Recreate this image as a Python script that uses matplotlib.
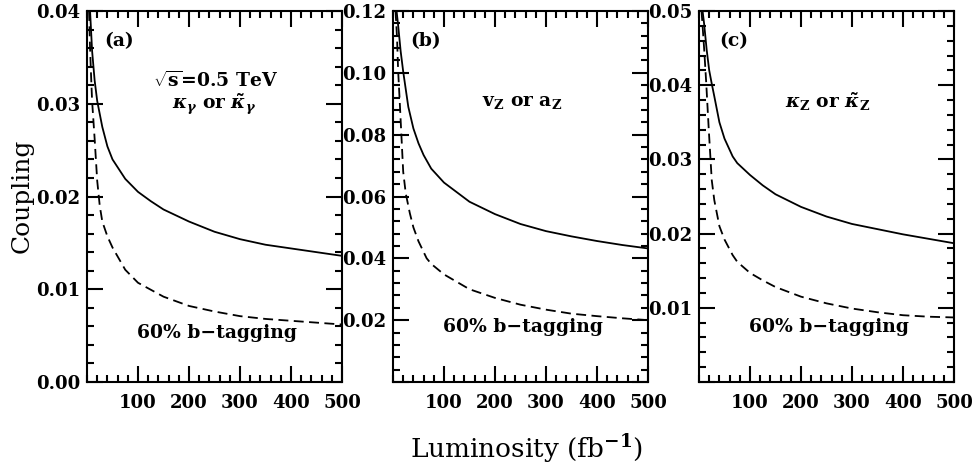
#!/usr/bin/env python3
"""
Sensitivity to anomalous couplings versus integrated luminosity at
sqrt(s) = 0.5 TeV, three panels: (a) kappa_gamma, (b) v_Z / a_Z, (c) kappa_Z.
Solid = no tagging, dashed = 60% b-tagging.
"""

import matplotlib
matplotlib.use('Agg')  # headless
import matplotlib.pyplot as plt
from matplotlib.ticker import MultipleLocator, FixedLocator, FuncFormatter

# ── Data ──────────────────────────────────────────────────────
# panel (a): kappa_gamma or kappa~_gamma
lum_a_solid = [6, 10, 15, 20, 30, 40, 50, 75, 100, 125, 150, 200, 250, 300, 350, 400, 450, 500]
a_solid = [0.0400, 0.0357, 0.0325, 0.0303, 0.0275, 0.0254, 0.0240, 0.0219, 0.0205, 0.0195,
           0.0186, 0.0173, 0.0162, 0.0154, 0.0148, 0.0144, 0.0140, 0.0136]
lum_a_dash = [4, 6, 8, 10, 15, 20, 25, 30, 40, 50, 75, 100, 150, 200, 250, 300, 350, 400, 450, 500]
a_dash = [0.0400, 0.0360, 0.0330, 0.0303, 0.0262, 0.0217, 0.0190, 0.0173, 0.0157, 0.0145,
          0.0121, 0.0107, 0.0092, 0.0082, 0.0076, 0.0071, 0.0068, 0.0066, 0.0064, 0.0062]

# panel (b): v_Z or a_Z
lum_b_solid = [7, 10, 15, 20, 30, 40, 50, 60, 75, 100, 150, 200, 250, 300, 350, 400, 450, 500]
b_solid = [0.120, 0.1155, 0.107, 0.1004, 0.089, 0.082, 0.0772, 0.0734, 0.0690, 0.0645,
           0.0583, 0.0543, 0.0511, 0.0488, 0.0471, 0.0456, 0.0443, 0.0432]
lum_b_dash = [5, 8, 10, 14, 20, 25, 33, 40, 50, 66, 75, 100, 150, 200, 250, 300, 350, 400, 450, 500]
b_dash = [0.120, 0.111, 0.101, 0.088, 0.068, 0.061, 0.0546, 0.050, 0.0455, 0.0400,
          0.0382, 0.0348, 0.0300, 0.0272, 0.0250, 0.0234, 0.0221, 0.0213, 0.0206, 0.0200]

# panel (c): kappa_Z or kappa~_Z
lum_c_solid = [7, 10, 15, 20, 25, 30, 40, 50, 66, 75, 100, 125, 150, 200, 250, 300, 350, 400, 450, 500]
c_solid = [0.050, 0.0483, 0.0448, 0.0420, 0.0402, 0.0385, 0.0350, 0.0328, 0.0304, 0.0295,
           0.0279, 0.0265, 0.0253, 0.0236, 0.0223, 0.0213, 0.0206, 0.0199, 0.0193, 0.0187]
lum_c_dash = [5, 8, 10, 14, 19, 25, 30, 40, 50, 66, 75, 100, 125, 150, 200, 250, 300, 350, 400, 450, 500]
c_dash = [0.050, 0.047, 0.045, 0.0405, 0.0342, 0.0272, 0.0245, 0.0210, 0.0192, 0.0171,
          0.0162, 0.0147, 0.0137, 0.0128, 0.0115, 0.0106, 0.0099, 0.0094, 0.0090, 0.0088, 0.0087]

x_ticks = [100, 200, 300, 400, 500]
y_max = [0.04, 0.12, 0.05]
y_major = [0.01, 0.02, 0.01]
y_minor = [0.002, 0.004, 0.002]
panel_tags = ['(a)', '(b)', '(c)']
tag_x = [0.125, 0.129, 0.137]
coupling_labels = [r'$\kappa_\gamma$ or $\tilde{\kappa}_\gamma$',
                   r'v$_{\rm Z}$ or a$_{\rm Z}$',
                   r'$\kappa_{\rm Z}$ or $\tilde{\kappa}_{\rm Z}$']
btag_label = '60% b\u2212tagging'

# ── Style ─────────────────────────────────────────────────────
plt.rcParams['font.family'] = 'DejaVu Serif'
plt.rcParams['font.weight'] = 'bold'
plt.rcParams['mathtext.fontset'] = 'custom'
plt.rcParams['mathtext.rm'] = 'DejaVu Serif:bold'
plt.rcParams['mathtext.it'] = 'DejaVu Serif:italic:bold'
plt.rcParams['mathtext.bf'] = 'DejaVu Serif:bold'

LW = 1.3
DASH = (0, (5.5, 3))
TXT = 13.5

fig = plt.figure(figsize=(9.76, 4.72), dpi=100)

lefts = [87 / 976, 393 / 976, 699 / 976]
bottom = 1 - 382 / 472
width = 255 / 976
height = 371 / 472

curves = [
    (lum_a_solid, a_solid, lum_a_dash, a_dash),
    (lum_b_solid, b_solid, lum_b_dash, b_dash),
    (lum_c_solid, c_solid, lum_c_dash, c_dash),
]

for i, (xs, ys, xd, yd) in enumerate(curves):
    ax = fig.add_axes([lefts[i], bottom, width, height])
    ax.plot(xs, ys, color='black', lw=LW, solid_capstyle='butt')
    ax.plot(xd, yd, color='black', lw=LW, linestyle=DASH)

    ax.set_xlim(0, 500)
    ax.set_ylim(0, y_max[i])

    ax.xaxis.set_major_locator(FixedLocator(x_ticks))
    ax.xaxis.set_minor_locator(MultipleLocator(20))
    ax.yaxis.set_major_locator(MultipleLocator(y_major[i]))
    ax.yaxis.set_minor_locator(MultipleLocator(y_minor[i]))

    # only the first panel labels its zero
    first = (i == 0)
    ax.yaxis.set_major_formatter(FuncFormatter(
        lambda v, p, first=first: '' if (abs(v) < 1e-9 and not first) else f'{v:.2f}'))

    ax.tick_params(which='both', direction='in', top=True, right=True,
                   width=1.5, labelsize=13)
    ax.tick_params(which='major', length=11.5)
    ax.tick_params(which='minor', length=5)
    ax.tick_params(axis='x', pad=9)
    ax.tick_params(axis='y', pad=5)
    for sp in ax.spines.values():
        sp.set_linewidth(1.5)

    ax.text(tag_x[i], 0.919, panel_tags[i], transform=ax.transAxes,
            ha='center', va='center', fontsize=TXT)
    if i == 0:
        ax.text(0.506, 0.812, r'$\sqrt{\rm s}$=0.5 TeV', transform=ax.transAxes,
                ha='center', va='center', fontsize=TXT)
        ax.text(0.498, 0.750, coupling_labels[i], transform=ax.transAxes,
                ha='center', va='center', fontsize=TXT)
        ax.text(0.508, 0.131, btag_label, transform=ax.transAxes,
                ha='center', va='center', fontsize=TXT)
    else:
        ax.text(0.505, 0.755, coupling_labels[i], transform=ax.transAxes,
                ha='center', va='center', fontsize=TXT)
        ax.text(0.51, 0.148, btag_label, transform=ax.transAxes,
                ha='center', va='center', fontsize=TXT)

# ── Shared axis labels ────────────────────────────────────────
fig.text(22 / 976, 1 - 196 / 472, 'Coupling', rotation=90, fontsize=18,
         weight='normal', ha='center', va='center')
fig.text(527 / 976, 1 - 449 / 472, r'Luminosity (fb$^{-1}$)', fontsize=19,
         weight='normal', ha='center', va='center')

fig.savefig('out.png', dpi=100)
plt.close(fig)
